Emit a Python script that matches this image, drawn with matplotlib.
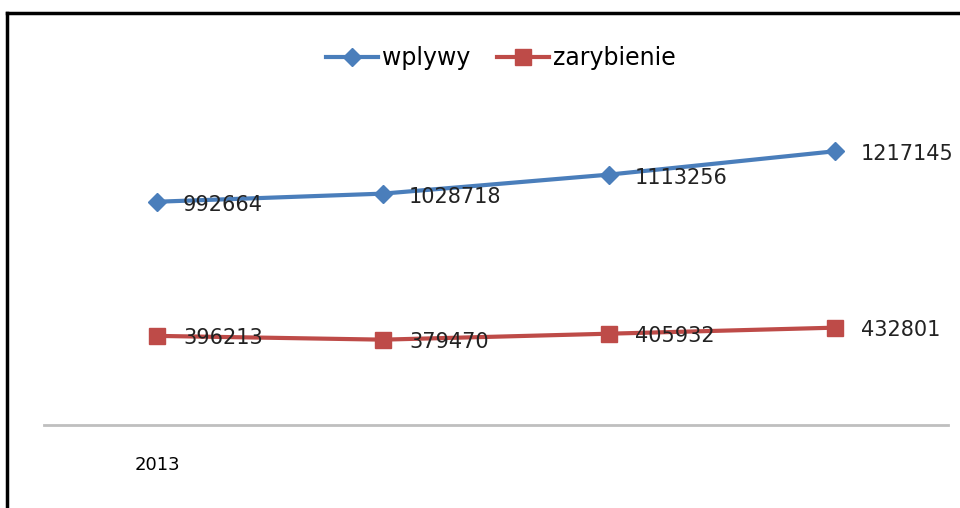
import matplotlib.pyplot as plt
from matplotlib.lines import Line2D

# Data
categories = ["2013", "", "", ""]
wplywy = [992664, 1028718, 1113256, 1217145]
zarybienie = [396213, 379470, 405932, 432801]

blue = "#4A7EBB"
red = "#BE4B48"

fig = plt.figure(figsize=(9.6, 5.08), dpi=100)
ax = fig.add_axes([44 / 960, 83 / 508, 904 / 960, 325 / 508])

x = list(range(len(categories)))
ax.plot(x, wplywy, color=blue, lw=3, marker="D", markersize=9, label="wplywy")
ax.plot(x, zarybienie, color=red, lw=3, marker="s", markersize=12, label="zarybienie")

# Data labels to the right of each point
for xi, v in zip(x, wplywy):
    ax.annotate(str(v), (xi, v), xytext=(26, -3), textcoords="offset pixels",
                ha="left", va="center", fontsize=15, color="#222222")
for xi, v in zip(x, zarybienie):
    ax.annotate(str(v), (xi, v), xytext=(26, -2), textcoords="offset pixels",
                ha="left", va="center", fontsize=15, color="#222222")

ax.set_xlim(-0.5, 3.5)
ax.set_ylim(0, 1445000)
ax.set_xticks(x)
ax.set_xticklabels(categories, fontsize=13)
ax.tick_params(axis="x", length=0, pad=22)
ax.set_yticks([])
for s in ["top", "right", "left"]:
    ax.spines[s].set_visible(False)
ax.spines["bottom"].set_color("#BFBFBF")
ax.spines["bottom"].set_linewidth(2)

ax.legend(loc="center", bbox_to_anchor=(501 / 960, (508 - 58) / 508), bbox_transform=fig.transFigure,
          ncol=2, frameon=False, fontsize=17, handlelength=2.2, handletextpad=0.2,
          columnspacing=1.1)

# Outer frame of the original screenshot
fig.add_artist(Line2D([7 / 960, 7 / 960], [0, 1 - 13 / 508], color="black", lw=2.5,
                      transform=fig.transFigure))
fig.add_artist(Line2D([7 / 960, 1], [1 - 13 / 508, 1 - 13 / 508], color="black", lw=2.5,
                      transform=fig.transFigure))

plt.savefig("out.png", dpi=100)
